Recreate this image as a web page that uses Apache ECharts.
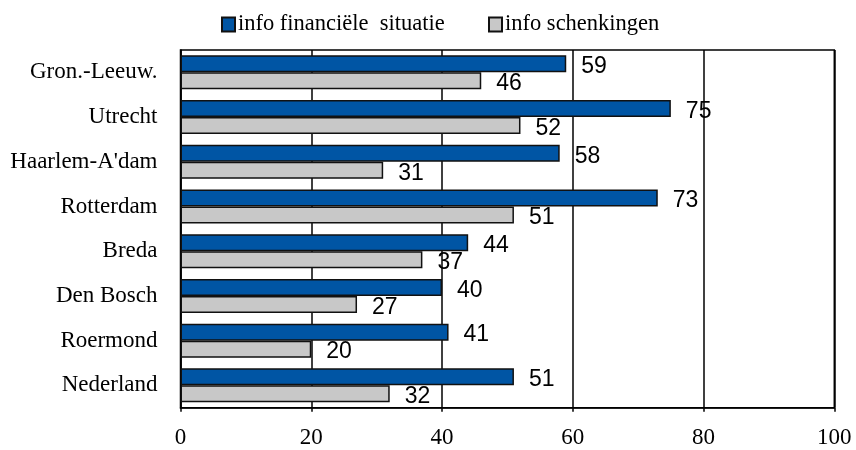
<!DOCTYPE html>
<html><head><meta charset="utf-8">
<script src="https://cdn.jsdelivr.net/npm/echarts@6/dist/echarts.min.js"></script>
<style>html,body{margin:0;padding:0;background:#fff}#c{width:856px;height:450px}</style>
</head><body><div id="c"></div>
<script>
const categories = ['Gron.-Leeuw.', 'Utrecht', 'Haarlem-A\'dam', 'Rotterdam', 'Breda', 'Den Bosch', 'Roermond', 'Nederland'];
const seriesNames = ['info financiële  situatie', 'info schenkingen'];
const financieel = [59, 75, 58, 73, 44, 40, 41, 51];
const schenkingen = [46, 52, 31, 51, 37, 27, 20, 32];
const xTicks = [0, 20, 40, 60, 80, 100];

const serif = '"Liberation Serif", "Times New Roman", serif';
const sans = '"Liberation Sans", Arial, sans-serif';
const chart = echarts.init(document.getElementById('c'), null, {renderer: 'canvas'});
const labelCfg = {show: true, position: 'right', distance: 15, fontFamily: sans, fontSize: 23, color: '#000', offset: [0, 3]};
const legendText = {fontFamily: serif, fontSize: 22.5, color: '#000', padding: [0, 0, 0, -2]};
chart.setOption({
  animation: false,
  backgroundColor: '#fff',
  legend: [
    {left: 216, top: 8, icon: 'rect', itemWidth: 13, itemHeight: 14, itemGap: 4, data: [seriesNames[0]], textStyle: legendText},
    {left: 483, top: 8, icon: 'rect', itemWidth: 13, itemHeight: 14, itemGap: 4, data: [seriesNames[1]], textStyle: legendText}
  ],
  grid: {left: 180.5, right: 21.7, top: 50, bottom: 42.3, show: true, borderColor: '#000', borderWidth: 1.5, containLabel: false},
  xAxis: {
    type: 'value', min: xTicks[0], max: xTicks[xTicks.length - 1], interval: 20,
    axisLine: {show: true, lineStyle: {color: '#000', width: 1.5}},
    axisTick: {show: true, length: 4, inside: false, lineStyle: {color: '#000', width: 1.5}},
    axisLabel: {fontFamily: serif, fontSize: 23, color: '#000', margin: 19},
    splitLine: {show: true, lineStyle: {color: '#000', width: 1.5}}
  },
  yAxis: {
    type: 'category', data: categories, inverse: true,
    axisLine: {show: true, lineStyle: {color: '#000', width: 1.5}},
    axisTick: {show: false},
    axisLabel: {fontFamily: serif, fontSize: 23, color: '#000', margin: 23}
  },
  series: [
    {name: seriesNames[0], type: 'bar', data: financieel, barWidth: 17, barGap: '0%',
     itemStyle: {color: '#0055A4', borderColor: '#111', borderWidth: 1.5}, label: labelCfg},
    {name: seriesNames[1], type: 'bar', data: schenkingen, barWidth: 17, barGap: '0%',
     itemStyle: {color: '#C8C8C8', borderColor: '#111', borderWidth: 1.5}, label: labelCfg}
  ]
});
</script></body></html>
